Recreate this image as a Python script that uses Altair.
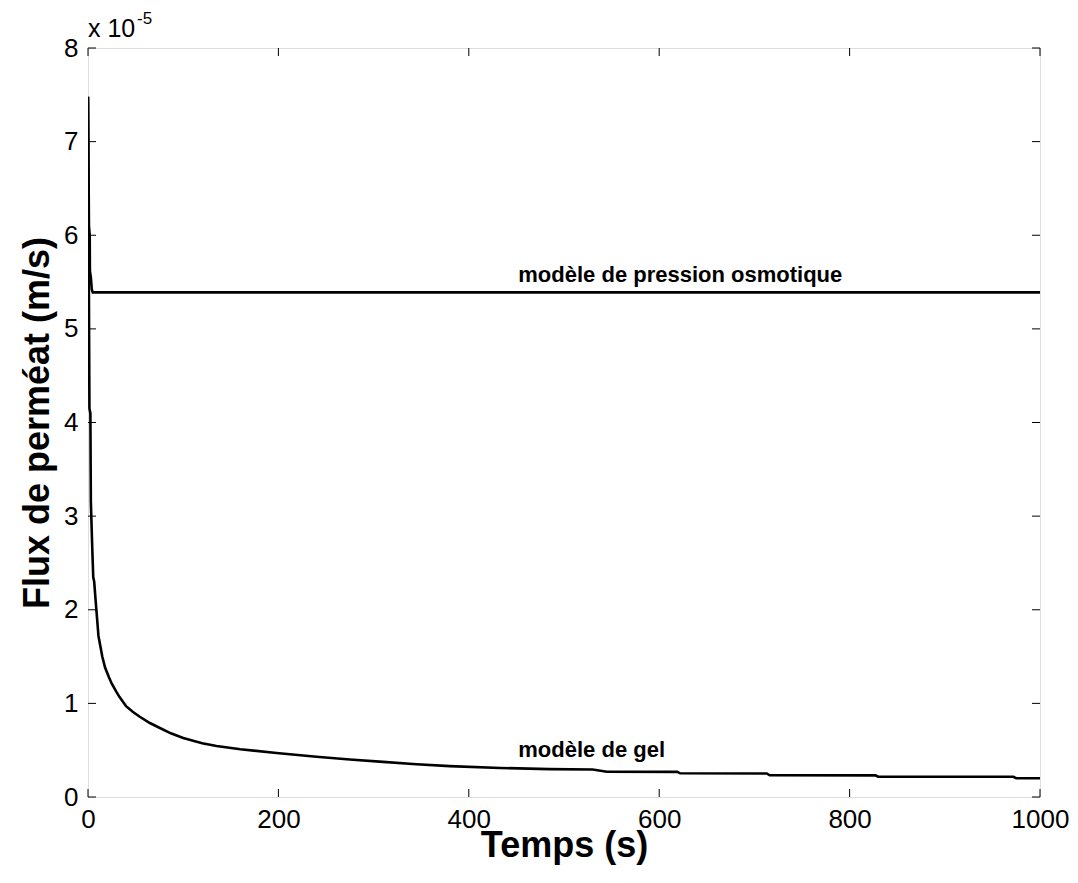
import altair as alt
import pandas as pd

# ---- data (flux in units of 1e-5 m/s) ----
osm_t = [0, 1, 1.8, 2, 3, 4, 5, 1000]
osm_v = [7.48, 6.1, 6.0, 5.62, 5.55, 5.42, 5.39, 5.39]

gel_t = [0, 1.5, 2.5, 3, 4.5, 5.5, 6.5, 8, 11, 15, 18, 22, 25, 30, 33, 40, 47, 54, 65,
         75, 87, 100, 120, 135, 160, 198, 240, 275, 310, 345, 380, 433, 485, 530, 545,
         619, 622, 713, 716, 827, 830, 972, 975, 1000]
gel_v = [7.48, 4.15, 4.1, 3.15, 2.65, 2.35, 2.3, 2.1, 1.72, 1.5, 1.38, 1.28, 1.21, 1.12,
         1.07, 0.97, 0.91, 0.86, 0.79, 0.74, 0.68, 0.63, 0.575, 0.545, 0.51, 0.47, 0.43,
         0.40, 0.375, 0.35, 0.33, 0.31, 0.298, 0.294, 0.27, 0.268, 0.253, 0.251, 0.232,
         0.231, 0.217, 0.216, 0.20, 0.20]

label_text = ["modèle de pression osmotique", "modèle de gel"]
label_t = [452, 452]
label_v = [5.50, 0.43]

x_ticks = [0, 200, 400, 600, 800, 1000]
y_ticks = [0, 1, 2, 3, 4, 5, 6, 7, 8]

W, H = 952, 749
FONT = "Liberation Sans"

lines_df = pd.DataFrame(
    [{"t": t, "v": v, "serie": "osmotique"} for t, v in zip(osm_t, osm_v)]
    + [{"t": t, "v": v, "serie": "gel"} for t, v in zip(gel_t, gel_v)]
)
labels_df = pd.DataFrame({"text": label_text, "t": label_t, "v": label_v})
xt_df = pd.DataFrame({"t": x_ticks})
yt_df = pd.DataFrame({"v": y_ticks})

xscale = alt.Scale(domain=[0, 1000], nice=False, zero=False)
yscale = alt.Scale(domain=[0, 8], nice=False, zero=False)

lines = alt.Chart(lines_df).mark_line(color="black", strokeWidth=2.6, clip=True).encode(
    x=alt.X("t:Q", scale=xscale,
            axis=alt.Axis(title="Temps (s)", values=x_ticks, format="d", ticks=False,
                          domain=False, grid=False, labelFontSize=26, labelFont=FONT,
                          labelColor="black", labelPadding=9, labelFlush=False,
                          titleFont=FONT, titleFontSize=36, titleFontWeight="bold",
                          titleColor="black", titleY=48, titleBaseline="middle")),
    y=alt.Y("v:Q", scale=yscale,
            axis=alt.Axis(title="Flux de perméat (m/s)", values=y_ticks, format="d",
                          ticks=False, domain=False, grid=False, labelFontSize=26,
                          labelFont=FONT, labelColor="black", labelPadding=10,
                          labelFlush=False, titleFont=FONT, titleFontSize=36,
                          titleFontWeight="bold", titleColor="black", titleX=-51,
                          titleY=H / 2, titleBaseline="middle")),
    detail="serie:N",
    order="t:Q",
)

labels = alt.Chart(labels_df).mark_text(
    align="left", baseline="alphabetic", font=FONT, fontSize=22, fontWeight="bold",
    color="black"
).encode(x=alt.X("t:Q", scale=xscale), y=alt.Y("v:Q", scale=yscale), text="text:N")

tick_style = dict(color="black", strokeWidth=1)
bottom_ticks = alt.Chart(xt_df).mark_rule(**tick_style).encode(
    x=alt.X("t:Q", scale=xscale), y=alt.value(H), y2=alt.value(H - 8))
top_ticks = alt.Chart(xt_df).mark_rule(**tick_style).encode(
    x=alt.X("t:Q", scale=xscale), y=alt.value(0), y2=alt.value(8))
left_ticks = alt.Chart(yt_df).mark_rule(**tick_style).encode(
    y=alt.Y("v:Q", scale=yscale), x=alt.value(0), x2=alt.value(8))
right_ticks = alt.Chart(yt_df).mark_rule(**tick_style).encode(
    y=alt.Y("v:Q", scale=yscale), x=alt.value(W), x2=alt.value(W - 8))

exp_base = alt.Chart(pd.DataFrame({"s": ["x 10"]})).mark_text(
    align="left", baseline="alphabetic", font=FONT, fontSize=25, color="black"
).encode(x=alt.value(0), y=alt.value(-11), text="s:N")
exp_sup = alt.Chart(pd.DataFrame({"s": ["-5"]})).mark_text(
    align="left", baseline="alphabetic", font=FONT, fontSize=17, color="black"
).encode(x=alt.value(49), y=alt.value(-24), text="s:N")

chart = alt.layer(
    lines, labels, bottom_ticks, top_ticks, left_ticks, right_ticks, exp_base, exp_sup
).properties(
    width=W, height=H,
    autosize=alt.AutoSizeParams(type="none"),
    padding={"left": 80, "top": 40, "right": 30, "bottom": 80},
).configure_view(stroke="black", strokeWidth=1.2).configure(background="white")

chart.save("out.html", embed_options={"renderer": "svg", "actions": False})
